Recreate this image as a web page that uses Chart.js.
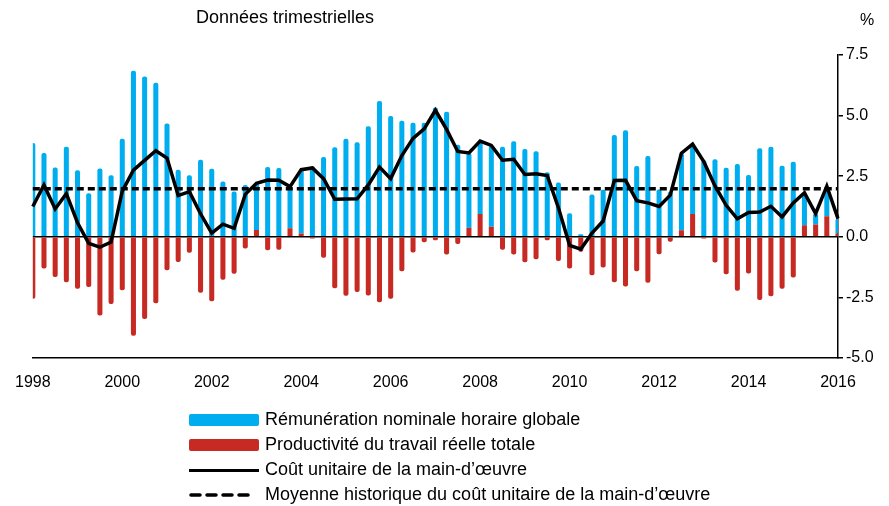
<!DOCTYPE html>
<html>
<head>
<meta charset="utf-8">
<script src="https://cdn.jsdelivr.net/npm/chart.js@4.4.1/dist/chart.umd.min.js"></script>
<style>
  body { margin: 0; background: #fff; font-family: "Liberation Sans", Arial, sans-serif; }
  #wrap { position: relative; width: 889px; height: 506px; }
  .txt { position: absolute; color: #000; white-space: nowrap; }
  .leg { position: absolute; left: 189px; width: 600px; height: 25px; }
  .leg .key { position: absolute; left: 0; top: 6px; width: 70px; height: 12px; border-radius: 2px; }
  .leg .ln { position: absolute; left: 0; top: 11px; width: 70px; height: 0; border-top: 3.5px solid #000; }
  .leg .dash { position: absolute; left: 0; top: 10px; width: 66px; height: 4px; }
  .leg span { position: absolute; left: 76px; top: 1px; font-size: 18px; white-space: nowrap; }
</style>
</head>
<body>
<div id="wrap">
  <canvas id="myChart" width="889" height="506"></canvas>
  <div class="txt" style="left:196px; top:7px; font-size:18px;">Données trimestrielles</div>
  <div class="txt" style="left:860px; top:11px; font-size:16px;">%</div>
  <div class="leg" style="top:408px;"><div class="key" style="background:#00AEEF"></div><span>Rémunération nominale horaire globale</span></div>
  <div class="leg" style="top:433px;"><div class="key" style="background:#C62A22"></div><span>Productivité du travail réelle totale</span></div>
  <div class="leg" style="top:458px;"><div class="ln"></div><span>Coût unitaire de la main-d’œuvre</span></div>
  <div class="leg" style="top:483px;"><svg class="dash" width="66" height="4"><line x1="2" y1="2" x2="64" y2="2" stroke="#000" stroke-width="3.5" stroke-dasharray="9 7" stroke-linecap="round"/></svg><span>Moyenne historique du coût unitaire de la main-d’œuvre</span></div>
</div>
<script>
// trimestres 1998T1 .. 2016T1
const quarters = [];
for (let y = 1998; y <= 2016; y++) {
    for (let q = 1; q <= 4; q++) {
        if (y === 2016 && q > 1) break;
        quarters.push(y + 'T' + q);
    }
}
const tickYears = ['1998', '2000', '2002', '2004', '2006', '2008', '2010', '2012', '2014', '2016'];

const remuneration = [
    3.87, 3.46, 2.86, 3.71, 2.75, 1.80, 2.82, 2.54,
    4.04, 6.85, 6.61, 6.36, 4.67, 2.77, 2.54, 3.18,
    2.81, 2.28, 1.87, 2.14, 1.93, 2.88, 2.84, 1.72,
    2.63, 2.91, 3.29, 3.69, 4.04, 3.90, 4.56, 5.60,
    4.98, 4.79, 4.70, 4.70, 5.33, 5.16, 3.80, 3.09,
    2.95, 3.35, 3.71, 3.94, 3.62, 3.53, 2.66, 2.24,
    0.97, 0.11, 1.74, 1.94, 4.20, 4.40, 2.92, 3.33,
    1.95, 1.86, 3.18, 2.85, 3.16, 3.20, 2.85, 3.00,
    2.55, 3.65, 3.71, 2.93, 3.10, 1.34, 0.45, 1.24,
    0.61
];
const productivite = [
    -2.56, -1.31, -1.66, -1.87, -2.14, -2.07, -3.25, -2.77,
    -2.21, -4.08, -3.39, -2.74, -1.38, -1.04, -0.66, -2.31,
    -2.66, -1.77, -1.52, -0.48, 0.28, -0.55, -0.53, 0.35,
    0.14, -0.07, -0.86, -2.12, -2.43, -2.28, -2.42, -2.70,
    -2.56, -1.42, -0.65, -0.22, -0.14, -0.73, -0.30, 0.37,
    0.94, 0.41, -0.53, -0.73, -1.05, -0.93, -0.14, -1.00,
    -1.31, -0.62, -1.59, -1.27, -1.87, -2.05, -1.42, -1.90,
    -0.72, -0.20, 0.27, 0.94, -0.07, -1.06, -1.54, -2.23,
    -1.51, -2.61, -2.45, -2.14, -1.68, 0.48, 0.51, 0.85,
    0.14
];
const coutUnitaire = [
    1.25, 2.14, 1.15, 1.78, 0.58, -0.27, -0.43, -0.22,
    1.88, 2.75, 3.15, 3.55, 3.25, 1.70, 1.86, 0.95,
    0.15, 0.52, 0.35, 1.75, 2.21, 2.34, 2.33, 2.07,
    2.77, 2.84, 2.40, 1.55, 1.56, 1.57, 2.14, 2.88,
    2.40, 3.35, 4.06, 4.45, 5.22, 4.43, 3.52, 3.46,
    3.95, 3.77, 3.16, 3.20, 2.57, 2.60, 2.53, 1.20,
    -0.35, -0.51, 0.15, 0.65, 2.32, 2.33, 1.49, 1.40,
    1.25, 1.72, 3.45, 3.82, 3.10, 2.10, 1.30, 0.74,
    1.00, 1.02, 1.26, 0.82, 1.40, 1.82, 0.96, 2.09,
    0.75
];
const moyenneHistorique = 1.98;
const yTicks = [-5.0, -2.5, 0.0, 2.5, 5.0, 7.5];

const data = {
    labels: quarters,
    datasets: [{
        type: 'bar',
        label: 'Productivité du travail réelle totale',
        data: productivite,
        backgroundColor: '#C62A22',
        stack: 'barres',
        order: 2,
        barPercentage: 0.5,
        categoryPercentage: 0.9,
        borderRadius: 2,
        clip: 0
    }, {
        type: 'bar',
        label: 'Rémunération nominale horaire globale',
        data: remuneration,
        backgroundColor: '#00AEEF',
        stack: 'barres',
        order: 2,
        barPercentage: 0.5,
        categoryPercentage: 0.9,
        borderRadius: 2,
        clip: 0
    }, {
        type: 'line',
        label: 'Moyenne historique du coût unitaire de la main-d’œuvre',
        data: [{x: quarters[0], y: moyenneHistorique}, {x: quarters[quarters.length - 1], y: moyenneHistorique}],
        borderColor: '#000',
        borderWidth: 3.5,
        borderDash: [7, 4],
        pointRadius: 0,
        stack: 'moyenne',
        order: 1
    }, {
        type: 'line',
        label: 'Coût unitaire de la main-d’œuvre',
        data: coutUnitaire,
        borderColor: '#000',
        borderWidth: 3.5,
        pointRadius: 0,
        tension: 0,
        stack: 'cout',
        order: 0
    }]
};

const config = {
    data: data,
    options: {
        responsive: false,
        animation: false,
        layout: { padding: { left: 30, top: 55, right: 0, bottom: 108 } },
        plugins: { legend: { display: false }, tooltip: { enabled: false } },
        scales: {
            x: {
                type: 'category',
                stacked: true,
                offset: false,
                grid: { display: false, drawTicks: false },
                border: { color: '#000', width: 1.5 },
                ticks: {
                    autoSkip: false,
                    maxRotation: 0,
                    padding: 15,
                    color: '#000',
                    font: { family: 'Liberation Sans', size: 16 },
                    callback: function (val) {
                        const lab = this.getLabelForValue(val);
                        const yr = lab.slice(0, 4);
                        return (lab.endsWith('T1') && tickYears.includes(yr)) ? yr : '';
                    }
                },
                afterFit: s => { s.height = 40; }
            },
            y: {
                position: 'right',
                stacked: true,
                min: -5,
                max: 7.5,
                z: 1,
                afterBuildTicks: s => { s.ticks = yTicks.map(v => ({ value: v })); },
                grid: {
                    color: c => (c.tick && c.tick.value === 0) ? '#000' : 'rgba(0,0,0,0)',
                    lineWidth: 1.5,
                    tickColor: '#000',
                    tickLength: 5,
                    tickWidth: 1.5
                },
                border: { color: '#000', width: 1.5 },
                ticks: {
                    padding: 3,
                    color: '#000',
                    font: { family: 'Liberation Sans', size: 16 },
                    callback: v => v.toFixed(1)
                },
                afterFit: s => { s.width = 51; }
            }
        }
    }
};

const myChart = new Chart(document.getElementById('myChart'), config);
</script>
</body>
</html>
